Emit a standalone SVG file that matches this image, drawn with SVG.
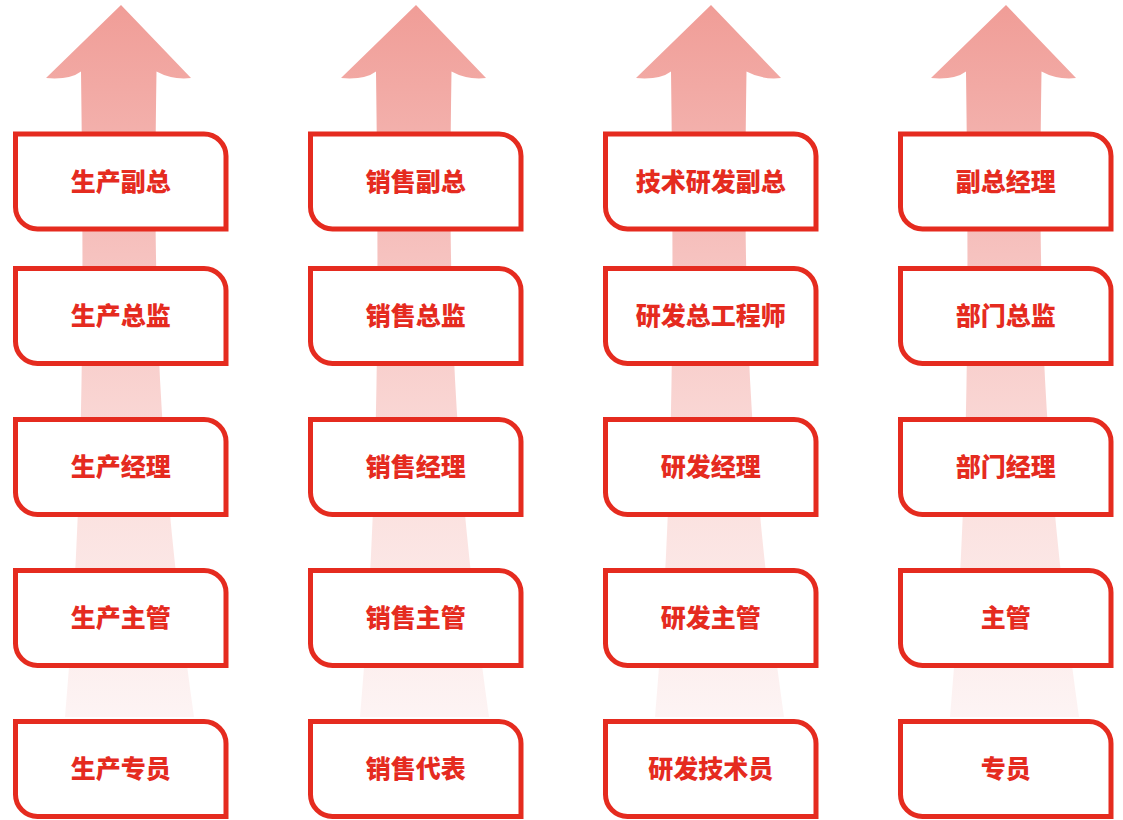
<svg xmlns="http://www.w3.org/2000/svg" xmlns:xlink="http://www.w3.org/1999/xlink" width="1123" height="820" viewBox="0 0 1123 820">
<defs>
<linearGradient id="ag" gradientUnits="userSpaceOnUse" x1="0" y1="5" x2="0" y2="717">
<stop offset="0" stop-color="#f09d97"/>
<stop offset="0.35" stop-color="#f6c2bf"/>
<stop offset="0.7" stop-color="#fbe1df"/>
<stop offset="1" stop-color="#fdf4f4"/>
</linearGradient>
<path id="arrow" d="M121,5 L191,78 Q172,80 156.5,71.5 C153,300 157,450 194,717 L65,717 C84,500 84,300 81,71.5 Q70,80 46,78 Z"/>
<path id="box" d="M2.5,2.5 H191 A22,22 0 0 1 213,24.5 V97.5 H24.5 A22,22 0 0 1 2.5,75.5 Z"/>
</defs>
<style>
.arr{fill:url(#ag);}
.bx{fill:#ffffff;stroke:#e52b1f;stroke-width:5;}
.t{font-family:"Noto Sans CJK SC","Noto Sans CJK JP",sans-serif;font-weight:900;font-size:25px;fill:#e52b1f;text-anchor:middle;dominant-baseline:central;}
</style>
<rect width="1123" height="820" fill="#ffffff"/>
<g id="connectors">
<use xlink:href="#arrow" href="#arrow" class="arr"/>
<use xlink:href="#arrow" href="#arrow" class="arr" transform="translate(295,0)"/>
<use xlink:href="#arrow" href="#arrow" class="arr" transform="translate(590,0)"/>
<use xlink:href="#arrow" href="#arrow" class="arr" transform="translate(885,0)"/>
</g>
<g id="c1r1" transform="translate(13,131.5)"><use href="#box" class="bx"/><text class="t" x="107.75" y="48">生产副总</text></g>
<g id="c1r2" transform="translate(13,266)"><use href="#box" class="bx"/><text class="t" x="107.75" y="48">生产总监</text></g>
<g id="c1r3" transform="translate(13,417)"><use href="#box" class="bx"/><text class="t" x="107.75" y="48">生产经理</text></g>
<g id="c1r4" transform="translate(13,568)"><use href="#box" class="bx"/><text class="t" x="107.75" y="48">生产主管</text></g>
<g id="c1r5" transform="translate(13,719)"><use href="#box" class="bx"/><text class="t" x="107.75" y="48">生产专员</text></g>
<g id="c2r1" transform="translate(308,131.5)"><use href="#box" class="bx"/><text class="t" x="107.75" y="48">销售副总</text></g>
<g id="c2r2" transform="translate(308,266)"><use href="#box" class="bx"/><text class="t" x="107.75" y="48">销售总监</text></g>
<g id="c2r3" transform="translate(308,417)"><use href="#box" class="bx"/><text class="t" x="107.75" y="48">销售经理</text></g>
<g id="c2r4" transform="translate(308,568)"><use href="#box" class="bx"/><text class="t" x="107.75" y="48">销售主管</text></g>
<g id="c2r5" transform="translate(308,719)"><use href="#box" class="bx"/><text class="t" x="107.75" y="48">销售代表</text></g>
<g id="c3r1" transform="translate(603,131.5)"><use href="#box" class="bx"/><text class="t" x="107.75" y="48">技术研发副总</text></g>
<g id="c3r2" transform="translate(603,266)"><use href="#box" class="bx"/><text class="t" x="107.75" y="48">研发总工程师</text></g>
<g id="c3r3" transform="translate(603,417)"><use href="#box" class="bx"/><text class="t" x="107.75" y="48">研发经理</text></g>
<g id="c3r4" transform="translate(603,568)"><use href="#box" class="bx"/><text class="t" x="107.75" y="48">研发主管</text></g>
<g id="c3r5" transform="translate(603,719)"><use href="#box" class="bx"/><text class="t" x="107.75" y="48">研发技术员</text></g>
<g id="c4r1" transform="translate(898,131.5)"><use href="#box" class="bx"/><text class="t" x="107.75" y="48">副总经理</text></g>
<g id="c4r2" transform="translate(898,266)"><use href="#box" class="bx"/><text class="t" x="107.75" y="48">部门总监</text></g>
<g id="c4r3" transform="translate(898,417)"><use href="#box" class="bx"/><text class="t" x="107.75" y="48">部门经理</text></g>
<g id="c4r4" transform="translate(898,568)"><use href="#box" class="bx"/><text class="t" x="107.75" y="48">主管</text></g>
<g id="c4r5" transform="translate(898,719)"><use href="#box" class="bx"/><text class="t" x="107.75" y="48">专员</text></g>
</svg>
